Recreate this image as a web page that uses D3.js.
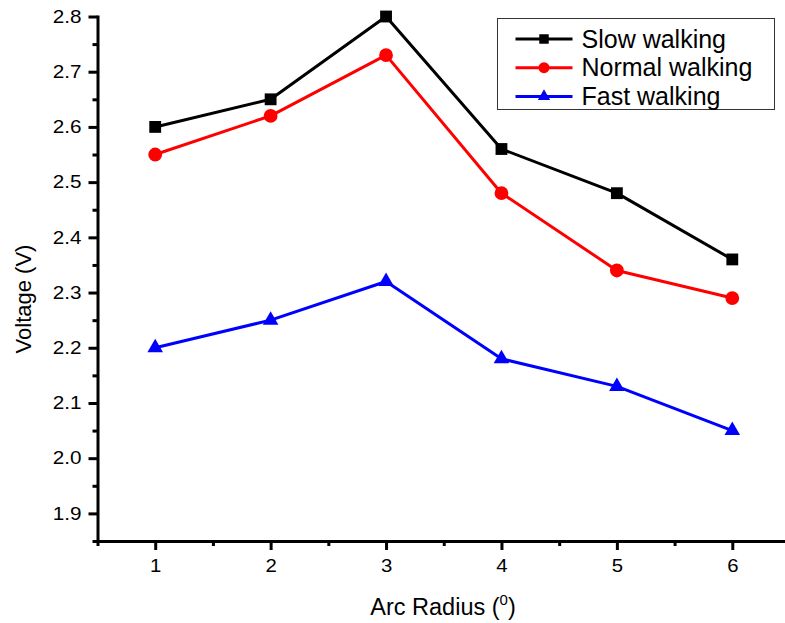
<!DOCTYPE html>
<html>
<head>
<meta charset="utf-8">
<script src="https://cdn.jsdelivr.net/npm/d3@7/dist/d3.min.js"></script>
<style>
  html, body { margin: 0; padding: 0; background: #fff; }
  svg { display: block; font-family: "Liberation Sans", Arial, Helvetica, sans-serif; }
</style>
</head>
<body>
<svg id="chart" width="785" height="623"></svg>
<script>
// Arc radius categories on the x axis
const arcRadius = [1, 2, 3, 4, 5, 6];

// Output voltage (V) per walking speed
const slowWalking   = [2.60, 2.65, 2.80, 2.56, 2.48, 2.36];
const normalWalking = [2.55, 2.62, 2.73, 2.48, 2.34, 2.29];
const fastWalking   = [2.20, 2.25, 2.32, 2.18, 2.13, 2.05];

const seriesNames = ["Slow walking", "Normal walking", "Fast walking"];

// Axis ticks
const yTicks = [1.9, 2.0, 2.1, 2.2, 2.3, 2.4, 2.5, 2.6, 2.7, 2.8];
const yMinorTicks = [1.85, 1.95, 2.05, 2.15, 2.25, 2.35, 2.45, 2.55, 2.65, 2.75];
const xTicks = [1, 2, 3, 4, 5, 6];
const xMinorTicks = [0.5, 1.5, 2.5, 3.5, 4.5, 5.5];

const series = [
  { name: seriesNames[0], values: slowWalking,   color: "#000000", symbol: d3.symbolSquare,   size: 140, legendSize: 90 },
  { name: seriesNames[1], values: normalWalking, color: "#ff0000", symbol: d3.symbolCircle,   size: 150, legendSize: 95 },
  { name: seriesNames[2], values: fastWalking,   color: "#0000ff", symbol: d3.symbolTriangle, size: 105, legendSize: 65 }
];

const svg = d3.select("#chart");

const x = d3.scaleLinear().domain([0.5, 6.5]).range([97.5, 790]);
const y = d3.scaleLinear().domain([1.85, 2.8]).range([541, 16.5]);

// Minor ticks (no labels)
svg.append("g")
  .attr("transform", `translate(${x(0.5)},0)`)
  .call(d3.axisLeft(y).tickValues(yMinorTicks).tickSize(5).tickSizeOuter(0).tickFormat(""))
  .call(g => g.select(".domain").remove())
  .call(g => g.selectAll("line").attr("stroke-width", 3));

svg.append("g")
  .attr("transform", `translate(0,${y(1.85)})`)
  .call(d3.axisBottom(x).tickValues(xMinorTicks).tickSize(5).tickSizeOuter(0).tickFormat(""))
  .call(g => g.select(".domain").remove())
  .call(g => g.selectAll("line").attr("stroke-width", 3));

// Major y axis
const yAxis = svg.append("g")
  .attr("transform", `translate(${x(0.5)},0)`)
  .call(d3.axisLeft(y).tickValues(yTicks).tickSize(9).tickSizeOuter(0).tickPadding(7).tickFormat(d3.format(".1f")));
yAxis.select(".domain").attr("stroke-width", 3).attr("stroke-linecap", "square");
yAxis.selectAll("line").attr("stroke-width", 3);
yAxis.selectAll("text")
  .attr("font-size", 18)
  .attr("fill", "#000")
  .attr("font-family", "'Liberation Sans', Arial, sans-serif")
  .attr("x", -16 / 1.15)
  .attr("transform", "scale(1.15,1)");

// Major x axis
const xAxis = svg.append("g")
  .attr("transform", `translate(0,${y(1.85)})`)
  .call(d3.axisBottom(x).tickValues(xTicks).tickSize(9).tickSizeOuter(0).tickPadding(9).tickFormat(d3.format("d")));
xAxis.select(".domain").attr("stroke-width", 3).attr("stroke-linecap", "square");
xAxis.selectAll("line").attr("stroke-width", 3);
xAxis.selectAll("text")
  .attr("font-size", 18.5)
  .attr("fill", "#000")
  .attr("font-family", "'Liberation Sans', Arial, sans-serif")
  .attr("transform", "scale(1.1,1)");

// Axis titles
const xTitle = svg.append("text")
  .attr("x", 443)
  .attr("y", 615)
  .attr("text-anchor", "middle")
  .attr("font-size", 23.5)
  .attr("fill", "#000");
xTitle.append("tspan").text("Arc Radius (");
xTitle.append("tspan").attr("font-size", 15).attr("dy", -10).text("0");
xTitle.append("tspan").attr("dy", 10).text(")");

svg.append("text")
  .attr("transform", "translate(31,299) rotate(-90)")
  .attr("text-anchor", "middle")
  .attr("font-size", 22)
  .attr("fill", "#000")
  .text("Voltage (V)");

// Lines and markers
const line = d3.line()
  .x((d, i) => x(arcRadius[i]))
  .y(d => y(d));

series.forEach(s => {
  svg.append("path")
    .datum(s.values)
    .attr("fill", "none")
    .attr("stroke", s.color)
    .attr("stroke-width", 3)
    .attr("stroke-linejoin", "round")
    .attr("d", line);

  svg.append("g")
    .selectAll("path")
    .data(s.values)
    .join("path")
    .attr("transform", (d, i) => `translate(${x(arcRadius[i])},${y(d)})`)
    .attr("d", d3.symbol().type(s.symbol).size(s.size))
    .attr("fill", s.color);
});

// Legend
const legend = svg.append("g").attr("transform", "translate(497.5,18.5)");
legend.append("rect")
  .attr("width", 277)
  .attr("height", 91)
  .attr("fill", "#fff")
  .attr("stroke", "#333")
  .attr("stroke-width", 1);

series.forEach((s, i) => {
  const row = legend.append("g").attr("transform", `translate(0,${20.5 + i * 28.7})`);
  row.append("line")
    .attr("x1", 18).attr("x2", 75)
    .attr("stroke", s.color)
    .attr("stroke-width", 3);
  row.append("path")
    .attr("transform", "translate(46.5,0)")
    .attr("d", d3.symbol().type(s.symbol).size(s.legendSize))
    .attr("fill", s.color);
  row.append("text")
    .attr("x", 84)
    .attr("y", 8.5)
    .attr("font-size", 25)
    .attr("fill", "#000")
    .text(s.name);
});
</script>
</body>
</html>
